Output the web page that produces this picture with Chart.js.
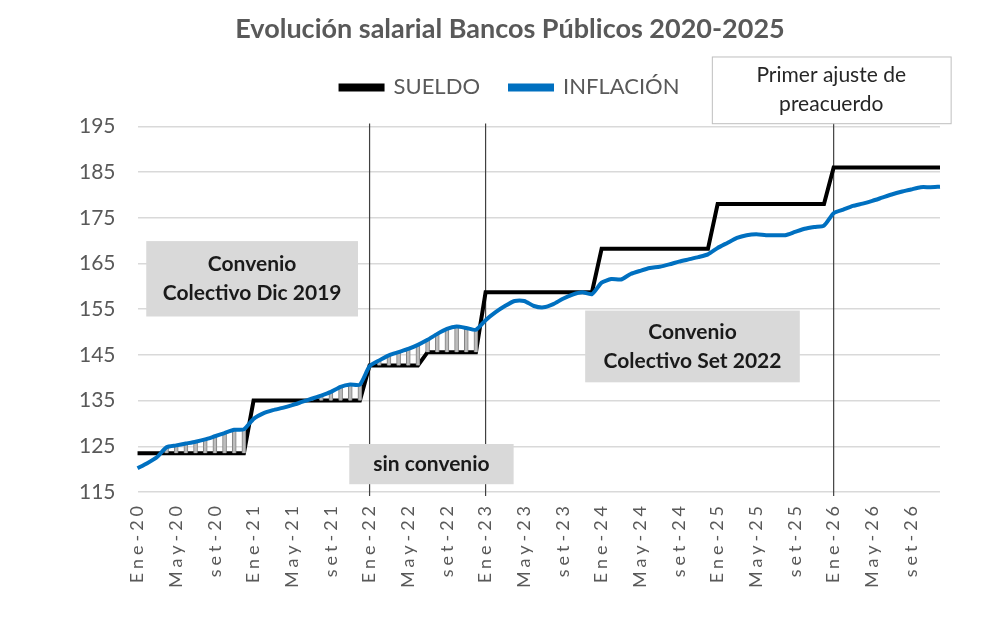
<!DOCTYPE html>
<html>
<head>
<meta charset="utf-8">
<script src="https://cdn.jsdelivr.net/npm/chart.js@4"></script>
<style>
  html, body { margin: 0; padding: 0; background: #fff; }
  #wrap { width: 1000px; height: 638px; }
</style>
</head>
<body>
<div id="wrap"><canvas id="chartSalarios"></canvas></div>
<script>
// Datos (indice), mensual Ene-20 .. Dic-26
const MESES = ["Ene", "Feb", "Mar", "Abr", "May", "Jun", "Jul", "Ago", "set", "Oct", "Nov", "Dic"];
const ANIOS = ["20", "21", "22", "23", "24", "25", "26"];
const labels = [];
ANIOS.forEach((a) => MESES.forEach((m) => labels.push(m + "-" + a)));

const sueldo = [
  123.5, 123.5, 123.5, 123.5, 123.5, 123.5, 123.5, 123.5, 123.5, 123.5, 123.5, 123.5,
  135.0, 135.0, 135.0, 135.0, 135.0, 135.0, 135.0, 135.0, 135.0, 135.0, 135.0, 135.0,
  142.7, 142.7, 142.7, 142.7, 142.7, 142.7, 145.6, 145.6, 145.6, 145.6, 145.6, 145.6,
  158.7, 158.7, 158.7, 158.7, 158.7, 158.7, 158.7, 158.7, 158.7, 158.7, 158.7, 158.7,
  168.2, 168.2, 168.2, 168.2, 168.2, 168.2, 168.2, 168.2, 168.2, 168.2, 168.2, 168.2,
  178.0, 178.0, 178.0, 178.0, 178.0, 178.0, 178.0, 178.0, 178.0, 178.0, 178.0, 178.0,
  186.0, 186.0, 186.0, 186.0, 186.0, 186.0, 186.0, 186.0, 186.0, 186.0, 186.0, 186.0
];

const inflacion = [
  120.2, 121.3, 122.6, 124.8, 125.2, 125.6, 126.0, 126.5, 127.2, 127.9, 128.6, 128.7,
  131.0, 132.2, 132.9, 133.4, 134.0, 134.7, 135.4, 136.1, 136.9, 138.0, 138.5, 138.5,
  142.5, 143.8, 144.9, 145.6, 146.3, 147.2, 148.3, 149.6, 150.7, 151.2, 150.9, 150.5,
  152.6, 154.3, 155.7, 156.8, 156.8, 155.7, 155.4, 156.1, 157.3, 158.2, 158.7, 158.3,
  160.8, 161.6, 161.5, 162.7, 163.4, 164.0, 164.3, 164.8, 165.4, 165.9, 166.4, 167.0,
  168.4, 169.5, 170.6, 171.2, 171.4, 171.2, 171.2, 171.2, 171.9, 172.6, 173.0, 173.3,
  176.0, 176.8, 177.6, 178.1, 178.7, 179.4, 180.1, 180.7, 181.2, 181.7, 181.7, 181.8
];

// meses donde arranca cada convenio (lineas verticales)
const cortes = [24, 36, 72];

// perdida salarial: barras entre sueldo e inflacion cuando la inflacion queda arriba
const perdida = sueldo.map((s, i) => (inflacion[i] > s ? [s, inflacion[i]] : null));

const GRIS = "#595959";

// cajas de texto (en unidades de los ejes)
const notas = [
  { x0: 0.9, x1: 22.8, y0: 169.9, y1: 153.4, lines: ["Convenio", "Colectivo Dic 2019"], fill: "#d9d9d9", bold: true, size: 21 },
  { x0: 21.9, x1: 38.9, y0: 125.5, y1: 116.7, lines: ["sin convenio"], fill: "#d9d9d9", bold: true, size: 21 },
  { x0: 46.3, x1: 68.5, y0: 154.7, y1: 139.0, lines: ["Convenio", "Colectivo Set 2022"], fill: "#d9d9d9", bold: true, size: 21 },
  { x0: 59.4, x1: 84.1, y0: 210.3, y1: 195.7, lines: ["Primer ajuste de", "preacuerdo"], fill: "#ffffff", stroke: "#bfbfbf", bold: false, size: 21 }
];

const anotaciones = {
  id: "anotaciones",
  afterInit(chart) {
    // un poco mas de aire entre la leyenda y el area del grafico
    const lg = chart.legend;
    const fit = lg.fit.bind(lg);
    lg.fit = () => {
      fit();
      lg.height += 18;
    };
  },
  afterLayout(chart) {
    // etiquetas del eje x espaciadas como en Excel
    const sx = chart.scales.x;
    if (!sx._espaciado) {
      const orig = sx.drawLabels.bind(sx);
      sx.drawLabels = (area) => {
        chart.ctx.save();
        chart.ctx.letterSpacing = "4px";
        orig(area);
        chart.ctx.restore();
      };
      sx._espaciado = true;
    }
  },
  beforeDatasetsDraw(chart) {
    const { ctx, chartArea, scales } = chart;
    ctx.save();
    ctx.strokeStyle = "#404040";
    ctx.lineWidth = 1.2;
    cortes.forEach((c) => {
      const x = scales.x.getPixelForValue(c);
      ctx.beginPath();
      ctx.moveTo(x, chartArea.top - 3);
      ctx.lineTo(x, chartArea.bottom + 4);
      ctx.stroke();
    });
    ctx.restore();
  },
  afterDraw(chart) {
    const { ctx, scales } = chart;
    ctx.save();
    notas.forEach((n) => {
      const x0 = scales.x.getPixelForValue(n.x0);
      const x1 = scales.x.getPixelForValue(n.x1);
      const y0 = scales.y.getPixelForValue(n.y0);
      const y1 = scales.y.getPixelForValue(n.y1);
      ctx.fillStyle = n.fill;
      ctx.fillRect(x0, y0, x1 - x0, y1 - y0);
      if (n.stroke) {
        ctx.strokeStyle = n.stroke;
        ctx.lineWidth = 1;
        ctx.strokeRect(x0 + 0.5, y0 + 0.5, x1 - x0, y1 - y0);
      }
      ctx.fillStyle = n.bold ? "#1a1a1a" : "#262626";
      ctx.font = (n.bold ? "bold " : "") + n.size + "px Lato";
      ctx.textAlign = "center";
      ctx.textBaseline = "middle";
      const cx = (x0 + x1) / 2;
      const cy = (y0 + y1) / 2;
      const gap = 29;
      n.lines.forEach((t, i) => {
        ctx.fillText(t, cx, cy + (i - (n.lines.length - 1) / 2) * gap);
      });
    });
    ctx.restore();
  }
};

const chartSalarios = document.getElementById("chartSalarios");
new Chart(chartSalarios, {
  data: {
    labels: labels,
    datasets: [
      {
        type: "line",
        label: "SUELDO",
        data: sueldo,
        borderColor: "#000000",
        backgroundColor: "#000000",
        borderWidth: 4,
        pointRadius: 0,
        tension: 0,
        order: 2,
      },
      {
        type: "line",
        label: "INFLACIÓN",
        data: inflacion,
        borderColor: "#0070c0",
        backgroundColor: "#0070c0",
        borderWidth: 4,
        pointRadius: 0,
        tension: 0.2,
        order: 0,
      },
      {
        type: "bar",
        label: "perdida",
        data: perdida,
        backgroundColor: "#bdbdbd",
        borderColor: "#7f7f7f",
        borderWidth: { left: 1, right: 1, top: 0, bottom: 0 },
        borderSkipped: false,
        barThickness: 4,
        order: 1,
      },
    ],
  },
  options: {
    responsive: true,
    maintainAspectRatio: false,
    animation: false,
    layout: { padding: { left: 80, right: 60, top: 0, bottom: 10 } },
    plugins: {
      title: {
        display: true,
        text: "Evolución salarial Bancos Públicos 2020-2025",
        color: GRIS,
        font: { family: "Lato", size: 27, weight: "bold" },
        padding: { top: 13, bottom: 1 },
      },
      legend: {
        display: true,
        labels: {
          color: GRIS,
          font: { family: "Lato", size: 22 },
          boxWidth: 42,
          boxHeight: 4,
          padding: 30,
          filter: (item) => item.datasetIndex !== 2,
          sort: (a, b) => a.datasetIndex - b.datasetIndex,
        },
      },
      tooltip: { enabled: false },
    },
    scales: {
      x: {
        offset: false,
        grid: { display: false },
        border: { display: false },
        afterFit: (scale) => {
          scale.height += 62;
        },
        ticks: {
          autoSkip: false,
          minRotation: 90,
          maxRotation: 90,
          padding: 2,
          color: GRIS,
          font: { family: "Lato", size: 18 },
          callback: function (val, i) {
            return i % 4 === 0 ? labels[i] : "";
          },
        },
      },
      y: {
        min: 115,
        max: 195,
        grid: { color: "#d9d9d9", lineWidth: 1.5, drawTicks: false },
        border: { display: false },
        afterFit: (scale) => {
          scale.width -= 23;
        },
        ticks: {
          stepSize: 10,
          padding: 22,
          color: GRIS,
          font: { family: "Lato", size: 21 },
        },
      },
    },
  },
  plugins: [anotaciones],
});
</script>
</body>
</html>
